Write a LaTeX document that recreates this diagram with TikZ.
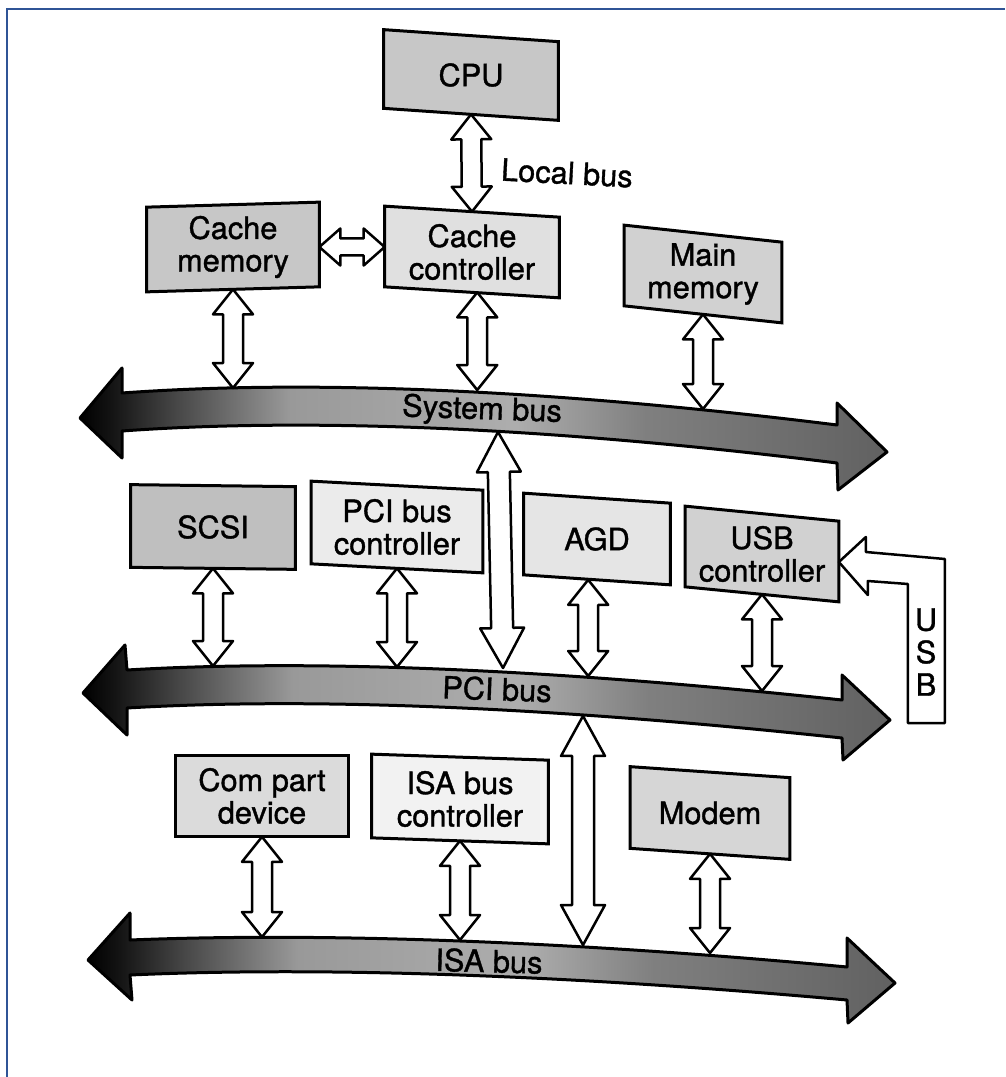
\documentclass[tikz,border=0pt]{standalone}
\usepackage{fontspec}
\setmainfont{TeX Gyre Heros}[BoldFont=TeX Gyre Heros, BoldFeatures={FakeBold=1.2}]
\usetikzlibrary{calc,backgrounds}

% grey fill of the three buses: black at the left head, light in the middle, darker to the right
\pgfdeclarehorizontalshading{busfill}{100bp}{color(0bp)=(black); color(25bp)=(black);
  color(27bp)=(black!92); color(31bp)=(black!72); color(38bp)=(black!40);
  color(52bp)=(black!32); color(60bp)=(black!50); color(75bp)=(black!62); color(100bp)=(black!62)}

% head length, head half width, shaft half width of the hollow double arrows
\def\ahl{0.5cm}\def\ahw{0.4cm}\def\asw{0.2cm}

% slanted frame behind a unit: node name, drop of the right side (px), grey level
\newcommand\slantframe[3]{%
  \begin{pgfonlayer}{background}
    \draw[boxline, fill=black!#3]
      ($(#1.north west)+(0,{-0.5*(#2)})$) -- ($(#1.north east)+(0,{0.5*(#2)})$)
      -- ($(#1.south east)+(0,{0.5*(#2)})$) -- ($(#1.south west)+(0,{-0.5*(#2)})$) -- cycle;
  \end{pgfonlayer}}

\tikzset{
  frame/.style={draw={rgb,255:red,47;green,84;blue,150}, line width=0.04cm},
  txt/.style={font=\fontsize{17.5}{18.5}\selectfont\bfseries},
  box/.style 2 args={minimum width=#1*0.02cm, minimum height=#2*0.02cm,
    inner sep=0pt, align=center, txt},
  boxline/.style={draw=black, line width=0.06cm, line join=miter},
  bus/.style={shading=busfill, draw=black, line width=0.06cm, line join=round},
  buslabel/.style={txt, inner sep=0pt},
  link/.style={draw=black, fill=white, line width=0.05cm, line join=round,
    to path={
      -- ($(\tikztostart)!\ahl!(\tikztotarget)!\ahw!90:(\tikztotarget)$)
      -- ($(\tikztostart)!\ahl!(\tikztotarget)!\asw!90:(\tikztotarget)$)
      -- ($(\tikztotarget)!\ahl!(\tikztostart)!\asw!-90:(\tikztostart)$)
      -- ($(\tikztotarget)!\ahl!(\tikztostart)!\ahw!-90:(\tikztostart)$)
      -- (\tikztotarget)
      -- ($(\tikztotarget)!\ahl!(\tikztostart)!\ahw!90:(\tikztostart)$)
      -- ($(\tikztotarget)!\ahl!(\tikztostart)!\asw!90:(\tikztostart)$)
      -- ($(\tikztostart)!\ahl!(\tikztotarget)!\asw!-90:(\tikztotarget)$)
      -- ($(\tikztostart)!\ahl!(\tikztotarget)!\ahw!-90:(\tikztotarget)$)
      -- cycle}},
  biglink/.style={link, /utils/exec={\def\ahl{0.8cm}\def\ahw{0.44cm}\def\asw{0.22cm}}},
  sidelink/.style={link, /utils/exec={\def\ahl{0.42cm}\def\ahw{0.37cm}\def\asw{0.17cm}}},
  usbline/.style={draw=black, fill=white, line width=0.05cm, line join=round},
}

\begin{document}
\begin{tikzpicture}[x=0.02cm, y=-0.02cm]
\useasboundingbox (0,0) rectangle (1005,1077);
\draw[frame] (7,1077) -- (7,9) -- (1005,9);

% ---- units ----
\node[box={174}{78}] (cpu)   at (471,75)  {CPU};
\node[box={172}{84}] (cmem)  at (233,247) {Cache\\memory};
\node[box={174}{80}] (cctrl) at (472,252) {Cache\\controller};
\node[box={157}{80}] (mmem)  at (703,274) {Main\\memory};

\node[box={164}{82}] (scsi)  at (213,527) {SCSI};
\node[box={171}{82}] (pcic)  at (397,527) {PCI bus\\controller};
\node[box={146}{81}] (agd)   at (597,539) {AGD};
\node[box={153}{80}] (usbc)  at (762,554) {USB\\controller};

\node[box={172}{81}] (com)   at (262,796) {Com part\\device};
\node[box={176}{83}] (isac)  at (460,799) {ISA bus\\controller};
\node[box={159}{81}] (modem) at (710,813) {Modem};

\slantframe{cpu}{12}{22}
\slantframe{cmem}{-5}{22}
\slantframe{cctrl}{11}{12}
\slantframe{mmem}{17}{18}
\slantframe{scsi}{2}{25}
\slantframe{pcic}{9}{8}
\slantframe{agd}{10}{10}
\slantframe{usbc}{15}{18}
\slantframe{com}{0}{14}
\slantframe{isac}{6}{5}
\slantframe{modem}{11}{16}

% ---- buses ----
\shadedraw[bus] (80,418) -- (122,368) -- (122,393)
  .. controls (330,378) and (580,393) .. (837,425) -- (837,403) -- (887,452)
  -- (838,490) -- (837,463) .. controls (580,431) and (330,416) .. (122,431)
  -- (122,458) -- cycle;
\shadedraw[bus] (83,693) -- (125,645) -- (127,670)
  .. controls (330,658) and (580,672) .. (842,700) -- (842,675) -- (890,720)
  -- (843,760) -- (842,738) .. controls (580,710) and (330,696) .. (127,708)
  -- (127,735) -- cycle;
\shadedraw[bus] (88,960) -- (130,913) -- (130,940)
  .. controls (330,932) and (580,942) .. (847,967) -- (847,938) -- (895,983)
  -- (848,1023) -- (847,1000) .. controls (580,976) and (330,966) .. (130,975)
  -- (132,1000) -- cycle;

\node[buslabel, rotate=-2]   (sysl) at (482,411) {System bus};
\node[buslabel, rotate=-2]   (pcil) at (497,689) {PCI bus};
\node[buslabel, rotate=-1.5] (isal) at (489,961) {ISA bus};
\node[buslabel, rotate=-3]   (locl) at (567,173) {Local bus};

% ---- attachment points ----
\coordinate (cctrlfoot) at ($(cctrl.south west)!0.53!(cctrl.south east)$);
\coordinate (agdfoot)   at ($(agd.south west)!0.44!(agd.south east)$);
\coordinate (usbport)   at ($(usbc.east)+(0,8)$);

\coordinate (sys1) at (cmem.south |- 0,388);
\coordinate (sys2) at (cctrlfoot |- 0,390);
\coordinate (sys3) at (mmem.south |- 0,409);
\coordinate (sysdown) at (498,432);

\coordinate (pci1) at (scsi.south |- 0,666);
\coordinate (pci2) at (pcic.south |- 0,667);
\coordinate (pciup) at (503,668);
\coordinate (pci3) at (agdfoot |- 0,676);
\coordinate (pci4) at (usbc.south |- 0,691);
\coordinate (pcidown) at (583,716);

\coordinate (isa1) at (com.south |- 0,937);
\coordinate (isa2) at (isac.south |- 0,940);
\coordinate (isaup) at (583,945);
\coordinate (isa3) at (modem.south |- 0,953);

% ---- links ----
\draw[link] (cpu.south) to (cctrl.north);
\draw[sidelink] (cmem.east) to (cctrl.west |- cmem.east);
\draw[link] (cmem.south) to (sys1);
\draw[link] (cctrlfoot) to (sys2);
\draw[link] (mmem.south) to (sys3);
\draw[biglink] (sysdown) to (pciup);

\draw[link] (scsi.south) to (pci1);
\draw[link] (pcic.south) to (pci2);
\draw[link] (agdfoot) to (pci3);
\draw[link] (usbc.south) to (pci4);
\draw[biglink] (pcidown) to (isaup);

\draw[link] (com.south) to (isa1);
\draw[link] (isac.south) to (isa2);
\draw[link] (modem.south) to (isa3);

% ---- external USB port arrow ----
\draw[usbline] (usbport) -- ($(usbport)+(27,-25)$) -- ($(usbport)+(27,-10)$)
  -- ($(usbport)+(106,-3)$) -- ($(usbport)+(106,161)$) -- ($(usbport)+(69,161)$)
  -- ($(usbport)+(69,22)$) -- ($(usbport)+(29,19)$) -- ($(usbport)+(29,33)$) -- cycle;
\node[buslabel, align=center] (usbl) at (926,652) {U\\S\\B};
\end{tikzpicture}
\end{document}
